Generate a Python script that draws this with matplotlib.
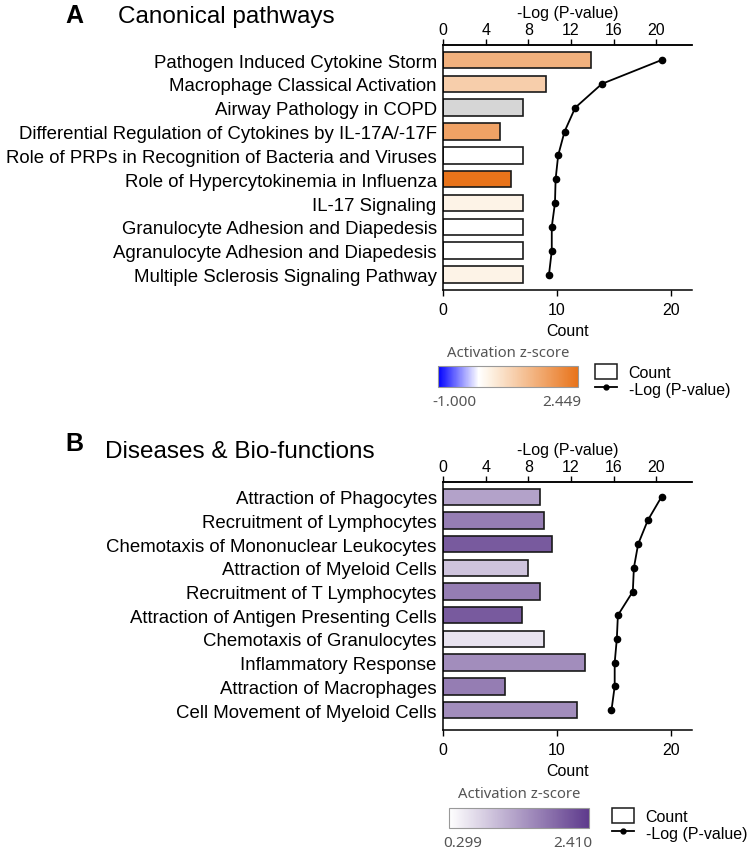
import numpy as np
import matplotlib
matplotlib.use('Agg')
import matplotlib.pyplot as plt
from matplotlib.colors import LinearSegmentedColormap, Normalize
from matplotlib.cm import ScalarMappable
from matplotlib.patches import Patch
from matplotlib.lines import Line2D

plt.rcParams['font.family'] = ['Liberation Sans', 'DejaVu Sans']

W, H = 749, 853

# ---- panel A : canonical pathways ----
cp_terms = ['Pathogen Induced Cytokine Storm',
            'Macrophage Classical Activation',
            'Airway Pathology in COPD',
            'Differential Regulation of Cytokines by IL-17A/-17F',
            'Role of PRPs in Recognition of Bacteria and Viruses',
            'Role of Hypercytokinemia in Influenza',
            'IL-17 Signaling',
            'Granulocyte Adhesion and Diapedesis',
            'Agranulocyte Adhesion and Diapedesis',
            'Multiple Sclerosis Signaling Pathway']
cp_count = [13, 9, 7, 5, 7, 6, 7, 7, 7, 7]
cp_logp = [20.5, 14.9, 12.4, 11.4, 10.8, 10.56, 10.5, 10.2, 10.2, 9.94]
cp_z = [1.38, 0.89, np.nan, 1.64, 0.0, 2.449, 0.25, 0.0, 0.0, 0.25]
cp_zrange = [-1.000, 2.449]

# ---- panel B : diseases & bio-functions ----
db_terms = ['Attraction of Phagocytes',
            'Recruitment of Lymphocytes',
            'Chemotaxis of Mononuclear Leukocytes',
            'Attraction of Myeloid Cells',
            'Recruitment of T Lymphocytes',
            'Attraction of Antigen Presenting Cells',
            'Chemotaxis of Granulocytes',
            'Inflammatory Response',
            'Attraction of Macrophages',
            'Cell Movement of Myeloid Cells']
db_count = [8.5, 8.9, 9.6, 7.5, 8.5, 6.9, 8.9, 12.5, 5.4, 11.8]
db_logp = [20.5, 19.2, 18.3, 17.9, 17.8, 16.4, 16.3, 16.1, 16.1, 15.8]
db_z = [1.29, 1.69, 2.07, 0.93, 1.69, 2.07, 0.6, 1.52, 1.69, 1.52]
db_zrange = [0.299, 2.410]

count_ticks = [0, 10, 20]
logp_ticks = [0, 4, 8, 12, 16, 20]

# colormaps
lo, hi = cp_zrange
orange_cmap = LinearSegmentedColormap.from_list(
    'bwo', [(0, '#0000ff'), (-lo / (hi - lo), '#ffffff'),
            (-lo / (hi - lo) + 0.08, '#fdf2e4'), (1, '#e8731a')])
purple_cmap = LinearSegmentedColormap.from_list('wp', ['#ffffff', '#5e3a8c'])


def fx(px):
    return px / W


def fy(py):
    return 1 - py / H


def panel(fig, box, letter, title, title_pos, terms, counts, logp, z, zrange,
          cmap, ylim, cbar_box, cbar_title_y, cbar_lab_y, legend_xy):
    left, top, right, bottom = box
    ax = fig.add_axes([fx(left), fy(bottom), fx(right - left), (bottom - top) / H])
    y = np.arange(len(terms))
    norm = Normalize(zrange[0], zrange[1])
    cols = [(0.84, 0.84, 0.84, 1) if np.isnan(v) else cmap(norm(v)) for v in z]
    ax.barh(y, counts, height=0.69, color=cols, edgecolor='#1a1a1a', linewidth=1.2)
    ax.set_xlim(0, 21.85)
    ax.set_ylim(*ylim)
    ax.set_yticks(y)
    ax.set_yticklabels(terms, fontsize=13.4)
    ax.tick_params(axis='y', length=0, pad=4.5)
    ax.set_xticks(count_ticks)
    ax.tick_params(axis='x', labelsize=11.5, length=4.5, width=1, pad=4.5)
    ax.set_xlabel('Count', fontsize=11.5, labelpad=4)
    ax.spines['right'].set_visible(False)
    for s in ['left', 'bottom', 'top']:
        ax.spines[s].set_linewidth(1.1)

    ax2 = ax.twiny()
    ax2.plot(logp, y, '-o', color='black', lw=1.3, ms=4.5)
    ax2.set_xlim(0, 23.35)
    ax2.set_xticks(logp_ticks)
    ax2.tick_params(axis='x', labelsize=11.5, length=4.5, width=1, pad=1)
    ax2.set_xlabel('-Log (P-value)', fontsize=11.5, labelpad=4)
    for s in ['right', 'bottom', 'left']:
        ax2.spines[s].set_visible(False)
    ax2.spines['top'].set_linewidth(1.1)

    # panel title
    fig.text(fx(65), fy(title_pos[0]), letter, fontsize=18, weight='bold', va='baseline')
    fig.text(fx(title_pos[2]), fy(title_pos[1]), title, fontsize=17.5, va='baseline')

    # colour bar
    cl, ct, cr, cb = cbar_box
    cax = fig.add_axes([fx(cl), fy(cb), fx(cr - cl), (cb - ct) / H])
    cbar = fig.colorbar(ScalarMappable(norm=norm, cmap=cmap), cax=cax,
                        orientation='horizontal')
    cbar.set_ticks([])
    cbar.outline.set_edgecolor('#999999')
    cbar.outline.set_linewidth(0.8)
    fam = ['Noto Sans', 'DejaVu Sans']
    fig.text(fx((cl + cr) / 2), fy(cbar_title_y), 'Activation z-score',
             fontsize=10.7, color='#555555', ha='center', va='center', family=fam)
    fig.text(fx(cl - 6), fy(cbar_lab_y), f'{zrange[0]:.3f}', fontsize=11,
             color='#555555', ha='left', va='center', family=fam)
    fig.text(fx(cr + 3), fy(cbar_lab_y), f'{zrange[1]:.3f}', fontsize=11,
             color='#555555', ha='right', va='center', family=fam)

    handles = [Patch(facecolor='white', edgecolor='#1a1a1a', linewidth=1.1),
               Line2D([], [], color='black', marker='o', ms=3.5, lw=1.3)]
    fig.legend(handles, ['Count', '-Log (P-value)'], loc='upper left',
               bbox_to_anchor=(fx(legend_xy[0]), fy(legend_xy[1])),
               frameon=False, fontsize=11.5, borderpad=0, handlelength=1.4,
               handleheight=1.1, handletextpad=0.7, labelspacing=0.05,
               borderaxespad=0)
    return ax


fig = plt.figure(figsize=(W / 100, H / 100), dpi=100)

panel(fig, (443, 46, 692, 291), 'A', 'Canonical pathways', (23.3, 23.3, 118),
      cp_terms, cp_count, cp_logp, cp_z, cp_zrange, orange_cmap,
      (9.65, -0.63), (438, 367, 578, 388), 354, 403, (595, 365))

panel(fig, (443, 483, 692, 731), 'B', 'Diseases & Bio-functions', (451, 458.3, 105),
      db_terms, db_count, db_logp, db_z, db_zrange, purple_cmap,
      (9.84, -0.62), (449, 809, 589, 829), 795, 844, (612, 809))

fig.savefig('out.png', dpi=100)
